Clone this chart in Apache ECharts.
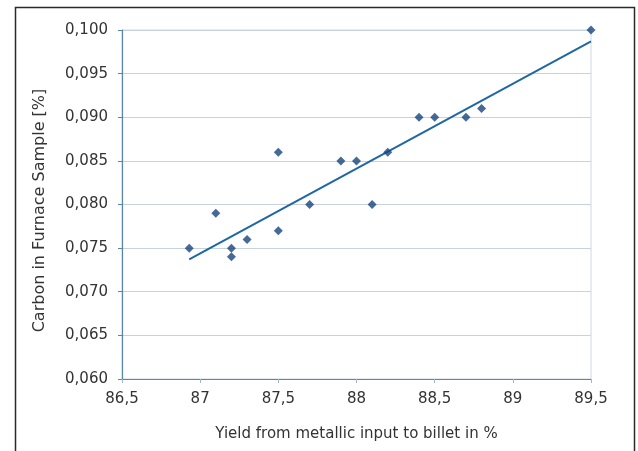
<!DOCTYPE html>
<html>
<head>
<meta charset="utf-8">
<script src="https://cdn.jsdelivr.net/npm/echarts@6/dist/echarts.min.js"></script>
<style>
html,body{margin:0;padding:0;background:#fff;}
#c{width:638px;height:451px;}
</style>
</head>
<body>
<div id="c"></div>
<script>
var yieldX = [86.93, 87.1, 87.2, 87.2, 87.3, 87.5, 87.5, 87.7, 87.9, 88.0, 88.1, 88.2, 88.4, 88.5, 88.7, 88.8, 89.5];
var carbonY = [0.075, 0.079, 0.075, 0.074, 0.076, 0.086, 0.077, 0.080, 0.085, 0.085, 0.080, 0.086, 0.090, 0.090, 0.090, 0.091, 0.100];
var trendX = [86.93, 89.5];
var trendY = [0.0737, 0.0987];
var xTitle = 'Yield from metallic input to billet in %';
var yTitle = 'Carbon in Furnace Sample [%]';

var pts = yieldX.map(function(x, i){ return [x, carbonY[i]]; });
var tline = trendX.map(function(x, i){ return [x, trendY[i]]; });

var chart = echarts.init(document.getElementById('c'), null, {renderer:'canvas'});
var font = '"DejaVu Sans", Arial, sans-serif';
chart.setOption({
  backgroundColor: '#fff',
  animation: false,
  graphic: [{
    type: 'rect', left: 13, top: 5,
    shape: {width: 619, height: 470},
    style: {fill: 'none', stroke: '#2a2a2a', lineWidth: 1.5},
    silent: true
  }],
  grid: {left: 122, right: 47, top: 30, bottom: 72, show: true, borderColor: '#cdd8e2', borderWidth: 1, backgroundColor: 'transparent'},
  xAxis: {
    type: 'value', min: 86.5, max: 89.5, interval: 0.5,
    name: xTitle, nameLocation: 'middle', nameGap: 48,
    nameTextStyle: {fontFamily: font, fontSize: 15, color: '#333333'},
    axisLine: {show: true, onZero: false, lineStyle: {color: '#5b86ac', width: 1.2}},
    axisTick: {show: true, length: 4, inside: false, lineStyle: {color: '#9fb7cc'}},
    splitLine: {show: false},
    axisLabel: {margin: 13, fontFamily: font, fontSize: 15, color: '#333333',
      formatter: function(v){ return String(Math.round(v*10)/10).replace('.', ','); }}
  },
  yAxis: {
    type: 'value', min: 0.060, max: 0.100, interval: 0.005,
    name: yTitle, nameLocation: 'middle', nameGap: 74, nameRotate: 90,
    nameTextStyle: {fontFamily: font, fontSize: 16, color: '#333333', padding: [0, 12, 0, 0]},
    axisLine: {show: true, lineStyle: {color: '#5b86ac', width: 1.2}},
    axisTick: {show: true, length: 4, lineStyle: {color: '#5b86ac'}},
    splitLine: {show: true, lineStyle: {color: '#c6d3df', width: 1.2}},
    axisLabel: {margin: 14, fontFamily: font, fontSize: 15, color: '#333333',
      formatter: function(v){ return v.toFixed(3).replace('.', ','); }}
  },
  series: [{
    type: 'line', data: tline, symbol: 'none', silent: true,
    lineStyle: {color: '#1f67a3', width: 2}, z: 2
  }, {
    type: 'scatter', data: pts, symbol: 'diamond', symbolSize: 9,
    itemStyle: {color: '#16457e'}, z: 3
  }]
});
</script>
</body>
</html>
